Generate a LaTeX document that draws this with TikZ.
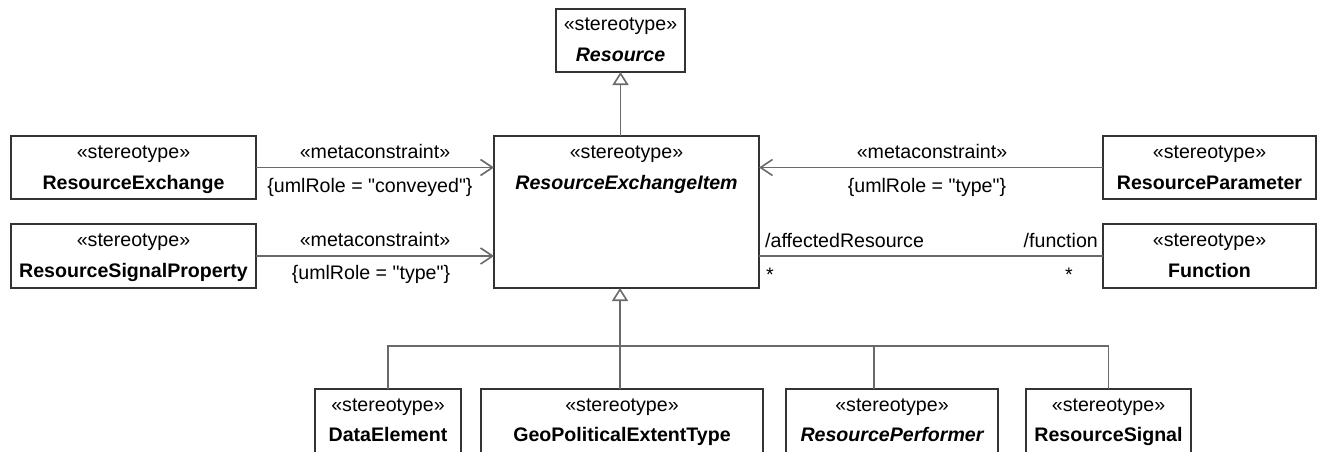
\documentclass[tikz,border=0pt]{standalone}
\usepackage{fontspec}
\setmainfont{Liberation Sans}
\usetikzlibrary{arrows.meta}
\definecolor{boxc}{HTML}{333333}
\definecolor{linec}{HTML}{6A6A6A}
\tikzset{
  cls/.style={draw=boxc, line width=1.8pt, inner sep=0pt, outer sep=0pt, anchor=north west, fill=white},
  clsopen/.style={inner sep=0pt, outer sep=0pt, anchor=north west},
  frame/.style={draw=boxc, line width=1.8pt},
  txt/.style={inner sep=0pt, anchor=base, font=\fontsize{19.6}{24}\selectfont},
  stereo/.style={txt},
  cname/.style={txt, font=\fontsize{19.6}{24}\selectfont\bfseries},
  cnamei/.style={txt, font=\fontsize{19.6}{24}\selectfont\bfseries\itshape},
  conn/.style={draw=linec, line width=1.6pt},
  meta/.style={conn, -{Straight Barb[length=12pt,width=16pt,line width=1.6pt]}},
  gen/.style={conn, -{Triangle[open, fill=white, length=13pt, width=16pt, line width=1.6pt]}},
}
\newcommand{\qq}{\textquotedbl}
\begin{document}
\begin{tikzpicture}[x=1pt, y=-1pt]
\clip (0,0) rectangle (1319,452);
\fill[white] (0,0) rectangle (1319,452);
% class boxes
\node[cls, minimum width=129pt, minimum height=63pt] (res) at (556,9) {};
\node[stereo] (rest) at (620.5,31) {«stereotype»};
\node[cnamei] (resn) at (620.5,62) {Resource};

\node[cls, minimum width=265pt, minimum height=152pt] (rei) at (494,136) {};
\node[stereo] (reit) at (626.5,158) {«stereotype»};
\node[cnamei] (rein) at (626.5,189) {ResourceExchangeItem};

\node[cls, minimum width=245pt, minimum height=63pt] (re) at (11,136) {};
\node[stereo] (ret) at (133.5,158) {«stereotype»};
\node[cname] (ren) at (133.5,189) {ResourceExchange};

\node[cls, minimum width=245pt, minimum height=64pt] (rsp) at (11,224) {};
\node[stereo] (rspt) at (133.5,246) {«stereotype»};
\node[cname] (rspn) at (133.5,277) {ResourceSignalProperty};

\node[cls, minimum width=213pt, minimum height=63pt] (rp) at (1103,136) {};
\node[stereo] (rpt) at (1209.5,158) {«stereotype»};
\node[cname] (rpn) at (1209.5,189) {ResourceParameter};

\node[cls, minimum width=213pt, minimum height=64pt] (fn) at (1103,224) {};
\node[stereo] (fnt) at (1209.5,246) {«stereotype»};
\node[cname] (fnn) at (1209.5,277) {Function};

% bottom boxes (cut by the picture's lower edge)
\node[clsopen, minimum width=146pt, minimum height=63pt] (de) at (315,389) {};
\node[clsopen, minimum width=282pt, minimum height=63pt] (gpe) at (481,389) {};
\node[clsopen, minimum width=212pt, minimum height=63pt] (perf) at (786,389) {};
\node[clsopen, minimum width=165pt, minimum height=63pt] (sig) at (1026,389) {};
\foreach \n in {de,gpe,perf,sig}{
  \draw[frame] ([yshift=-30pt]\n.south west) |- (\n.north east) -- ([yshift=-30pt]\n.south east);
}
\node[stereo] (det) at (388,411) {«stereotype»};
\node[cname] (den) at (388,441) {DataElement};
\node[stereo] (gpet) at (622,411) {«stereotype»};
\node[cname] (gpen) at (622,441) {GeoPoliticalExtentType};
\node[stereo] (perft) at (892,411) {«stereotype»};
\node[cnamei] (perfn) at (892,441) {ResourcePerformer};
\node[stereo] (sigt) at (1108.5,411) {«stereotype»};
\node[cname] (sign) at (1108.5,441) {ResourceSignal};

% generalization to Resource
\draw[gen] (res.south |- rei.north) -- (res.south);

% generalization tree from the bottom
\coordinate (j) at (620,346);
\draw[conn] (de.north) |- (j);
\draw[conn] ([xshift=-18pt]perf.north) |- (j);
\draw[conn] (sig.north) |- (j);
\draw[gen] (j |- gpe.north) -- (j |- rei.south);

% metaconstraints
\draw[meta] (re.east) -- (re.east -| rei.west);
\node[txt] (m1) at (375,158) {«metaconstraint»};
\node[txt] (u1) at (370,192) {\{umlRole = \qq conveyed\qq\}};

\draw[meta] (rsp.east) -- (rsp.east -| rei.west);
\node[txt] (m2) at (375,246) {«metaconstraint»};
\node[txt] (u2) at (371,279) {\{umlRole = \qq type\qq\}};

\draw[meta] (rp.west) -- (rp.west -| rei.east);
\node[txt] (m3) at (932,158) {«metaconstraint»};
\node[txt] (u3) at (927,192) {\{umlRole = \qq type\qq\}};

% association
\draw[conn] (rei.east |- fn.west) -- (fn.west);
\node[txt, anchor=base west] (ar) at (765,247) {/affectedResource};
\node[txt, anchor=base west] (s1) at (766,281) {*};
\node[txt, anchor=base east] (fr) at (1098,247) {/function};
\node[txt] (s2) at (1069,281) {*};
\end{tikzpicture}
\end{document}
